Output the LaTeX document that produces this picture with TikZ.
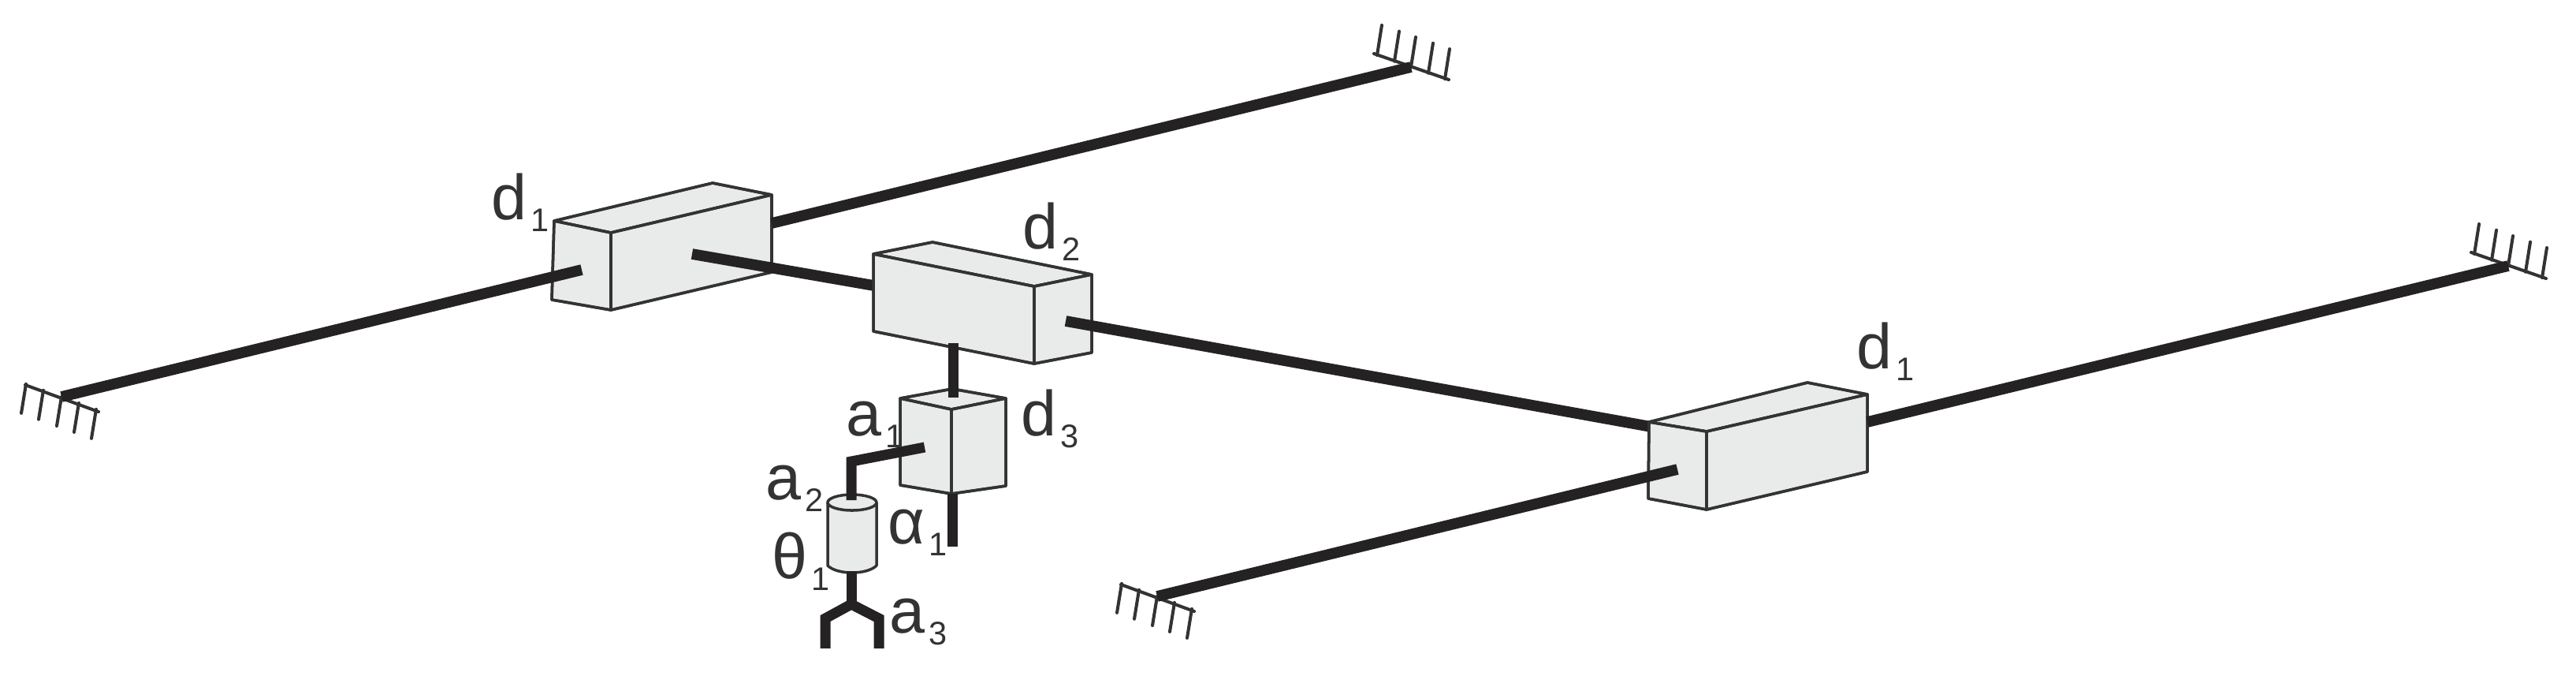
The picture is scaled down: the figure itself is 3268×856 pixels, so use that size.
\documentclass[tikz,border=0pt]{standalone}
\usepackage{fontspec}
\setmainfont{Liberation Sans}
\definecolor{boxfill}{HTML}{E9EAEA}
\definecolor{ink}{HTML}{333333}
\definecolor{railc}{HTML}{242222}
\newcommand{\lab}[2]{{\fontsize{23}{23}\selectfont #1}\kern 1.6pt\raisebox{-4.3pt}{\fontsize{11.8}{12}\selectfont #2}}
\tikzset{
  rail/.style={draw=railc,line width=3.9pt,line cap=butt,line join=miter},
  thinrail/.style={draw=railc,line width=3.7pt,line cap=butt,line join=miter},
  face/.style={draw=ink,fill=boxfill,line width=1pt,line join=round},
  hatch/.style={draw=ink,line width=1.15pt,line cap=round},
  lbl/.style={anchor=base west,inner sep=0pt,outer sep=0pt,text=ink},
  pics/hatchup/.style={code={
    \draw[hatch] (-47,-17) -- (48,16);
    \foreach \t in {-43,-21,0,22,43} \draw[hatch] (\t,{0.35*\t}) -- ++(6,-38);
  }},
  pics/hatchdown/.style={code={
    \draw[hatch] (-46,-15) -- (47,19);
    \foreach \t in {-45,-23,0,22,44} \draw[hatch] (\t,{0.36*\t}) -- ++(-6,37);
  }},
}
\begin{document}
\begin{tikzpicture}[x=0.01cm,y=-0.01cm]
\useasboundingbox (0,0) rectangle (3268,856);
% free ends and junctions
\coordinate (gndA) at (78,503);
\coordinate (stubA) at (738,342);
\coordinate (exitA) at (979,283);
\coordinate (gndB) at (1790,85);
\coordinate (stubB) at (878,322);
\coordinate (inD2) at (1120,364);
\coordinate (stubC) at (1352,407);
\coordinate (inE) at (2100,542);
\coordinate (gndC) at (1468,756);
\coordinate (stubD) at (2128,595);
\coordinate (exitE) at (2369,535);
\coordinate (gndD) at (3182,337);
\coordinate (d2low) at (1209,435);
\coordinate (d3stub) at (1209,504);
\coordinate (d3low) at (1208,626);
\coordinate (d3end) at (1208,693);
\coordinate (armA) at (1173,567);
\coordinate (armB) at (1080,585);
\coordinate (armC) at (1080,634);
\coordinate (cylLow) at (1080,724);
\coordinate (apex) at (1080,766);
\coordinate (forkL) at (1047,784);
\coordinate (forkLe) at (1047,822);
\coordinate (forkR) at (1115,784);
\coordinate (forkRe) at (1115,822);

% grounds
\pic at (gndA) {hatchdown};
\pic at (gndB) {hatchup};
\pic at (gndC) {hatchdown};
\pic at (gndD) {hatchup};

% slider d1 (left)
\fill[face] (703,280) -- (904,232) -- (979,247) -- (775,295) -- cycle;
\fill[face] (703,280) -- (775,295) -- (775,393) -- (700,380) -- cycle;
\fill[face] (775,295) -- (979,247) -- (979,345) -- (775,393) -- cycle;
\draw[face,fill=none] (703,280) -- (904,232) -- (979,247) -- (979,345) -- (775,393) -- (700,380) -- cycle;
\draw[face,fill=none] (703,280) -- (775,295) -- (979,247) (775,295) -- (775,393);
\draw[rail] (gndA) -- (stubA);
\draw[rail] (exitA) -- (gndB);
\draw[rail] (stubB) -- (inD2);

% slider d2
\draw[thinrail] (d2low) -- (d3stub);
\fill[face] (1108,322) -- (1183,307) -- (1385,348) -- (1312,363) -- cycle;
\fill[face] (1108,322) -- (1312,363) -- (1312,461) -- (1108,420) -- cycle;
\fill[face] (1312,363) -- (1385,348) -- (1385,447) -- (1312,461) -- cycle;
\draw[face,fill=none] (1108,322) -- (1183,307) -- (1385,348) -- (1385,447) -- (1312,461) -- (1108,420) -- cycle;
\draw[face,fill=none] (1108,322) -- (1312,363) -- (1385,348) (1312,363) -- (1312,461);
\draw[rail] (stubC) -- (inE);

% slider d1 (right)
\fill[face] (2092,535) -- (2293,485) -- (2369,500) -- (2165,547) -- cycle;
\fill[face] (2092,535) -- (2165,547) -- (2165,646) -- (2091,632) -- cycle;
\fill[face] (2165,547) -- (2369,500) -- (2369,598) -- (2165,646) -- cycle;
\draw[face,fill=none] (2092,535) -- (2293,485) -- (2369,500) -- (2369,598) -- (2165,646) -- (2091,632) -- cycle;
\draw[face,fill=none] (2092,535) -- (2165,547) -- (2369,500) (2165,547) -- (2165,646);
\draw[rail] (gndC) -- (stubD);
\draw[rail] (exitE) -- (gndD);

% slider d3
\fill[face] (1142,505) -- (1208,493) -- (1276,505) -- (1207,519) -- cycle;
\fill[face] (1142,505) -- (1207,519) -- (1207,626) -- (1142,615) -- cycle;
\fill[face] (1207,519) -- (1276,505) -- (1276,616) -- (1207,626) -- cycle;
\draw[face,fill=none] (1142,505) -- (1208,493) -- (1276,505) -- (1276,616) -- (1207,626) -- (1142,615) -- cycle;
\draw[face,fill=none] (1142,505) -- (1207,519) -- (1276,505) (1207,519) -- (1207,626);
\draw[thinrail] (d2low) -- (d3stub);
\draw[thinrail] (d3low) -- (d3end);

% cylinder
\draw[face] (1050,637) -- (1050,717) .. controls (1062,729) and (1100,729) .. (1112,717) -- (1112,637) -- cycle;
\draw[face] (1081,637) ellipse [x radius=31,y radius=10];
\draw[thinrail] (armA) -- (armB) -- (armC);
\draw[thinrail] (cylLow) -- (apex);
\draw[thinrail] (forkLe) -- (forkL) -- (apex) -- (forkR) -- (forkRe);

% labels
\node[lbl] (ld1a) at (623,278) {\lab{d}{1}};
\node[lbl] (ld2) at (1297,315) {\lab{d}{2}};
\node[lbl] (ld1b) at (2355,467) {\lab{d}{1}};
\node[lbl] (ld3) at (1295,552) {\lab{d}{3}};
\node[lbl] (la1) at (1073,552) {\lab{a}{1}};
\node[lbl] (la2) at (971,633) {\lab{a}{2}};
\node[lbl] (lal) at (1126,689) {\lab{α}{1}};
\node[lbl] (lth) at (979,733) {\lab{θ}{1}};
\node[lbl] (la3) at (1128,802) {\lab{a}{3}};
\end{tikzpicture}
\end{document}
